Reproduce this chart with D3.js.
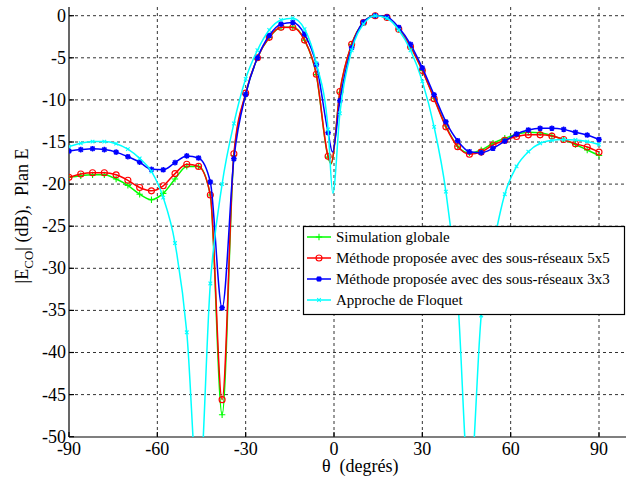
<!DOCTYPE html>
<html>
<head>
<meta charset="utf-8">
<script src="https://cdn.jsdelivr.net/npm/d3@7"></script>
<style>
  body { margin: 0; background: #fff; }
</style>
</head>
<body>
<script>
// ========================================= data ===================================

// angles (degrees) where the markers sit
var angles = [-90, -86, -82, -78, -74, -70, -66, -62, -58, -54, -50, -46, -42, -38, -34, -30,
              -26, -22, -18, -14, -10, -6, -2, 2, 6, 10, 14, 18, 22, 26, 30, 34, 38, 42, 46,
              50, 54, 58, 62, 66, 70, 74, 78, 82, 86, 90];

// Simulation globale
var simGlobale = [-19.2, -19.0, -18.9, -18.9, -19.4, -20.15, -21.2, -21.85, -21.1, -19.4, -17.9, -17.9, -21.3, -47.4, -16.6, -9.3,
                  -5.0, -2.6, -1.4, -1.35, -2.9, -7.0, -16.8, -9.1, -3.4, -0.8, 0, -0.2, -1.6, -3.7, -6.5, -9.8, -13.1, -15.5, -16.3,
                  -15.95, -15.15, -14.56, -14.1, -13.85, -13.9, -14.25, -14.7, -15.3, -15.95, -16.6];
var simGlobaleDip = [[-1, -17.6]];

// Methode proposee, sous-reseaux 5x5
var methode5x5 = [-19.2, -18.8, -18.65, -18.65, -18.9, -19.55, -20.4, -20.8, -20.2, -18.75, -17.65, -17.9, -21.3, -45.6, -16.4, -9.2,
                  -5.0, -2.57, -1.38, -1.4, -2.9, -6.96, -16.7, -9.0, -3.4, -0.8, 0, -0.2, -1.6, -3.7, -6.5, -9.85, -13.2, -15.55, -16.45,
                  -16.2, -15.35, -14.8, -14.35, -14.15, -14.15, -14.3, -14.7, -15.2, -15.6, -16.2];
var methode5x5Dip = [[-1, -17.5]];

// Methode proposee, sous-reseaux 3x3
var methode3x3 = [-16.07, -15.9, -15.8, -15.9, -16.2, -16.75, -17.4, -18.25, -18.3, -17.45, -16.65, -16.9, -19.75, -34.7, -17.0, -9.35,
                  -5.0, -2.35, -1.0, -0.8, -2.2, -5.8, -13.9, -10.1, -3.8, -0.75, 0, -0.15, -1.4, -3.4, -6.2, -9.4, -12.6, -14.85, -16.15,
                  -16.27, -15.75, -14.9, -14.05, -13.57, -13.37, -13.37, -13.5, -13.85, -14.17, -14.7];
var methode3x3Dip = [[-0.5, -16.2]];

// Approche de Floquet
var floquet = [-15.55, -15.15, -14.95, -14.95, -15.2, -15.85, -16.95, -18.5, -21.6, -27.0, -37.6, -57.4, -31.8, -20.0, -12.8, -7.5,
               -4.1, -1.7, -0.5, -0.3, -1.6, -5.65, -13.5, -11.6, -4.1, -1.0, 0, -0.3, -1.7, -4.1, -7.8, -13.2, -20.9, -33.5, -56.4,
               -35.6, -27.5, -21.2, -17.9, -16.15, -15.15, -14.8, -14.7, -14.75, -14.95, -15.3];
var floquetDip = [[-0.4, -21.1]];

var xTicks = [-90, -60, -30, 0, 30, 60, 90];
var yTicks = [0, -5, -10, -15, -20, -25, -30, -35, -40, -45, -50];

var legendLabels = ['Simulation globale',
                    'Méthode proposée avec des sous-réseaux 5x5',
                    'Méthode proposée avec des sous-réseaux 3x3',
                    'Approche de Floquet'];

// ========================================= layout ===================================

var W = 626, H = 477;
var plotL = 69, plotR = 626, plotT = 7, plotB = 437;
var FONT = "'Liberation Serif', 'Times New Roman', 'DejaVu Serif', serif";

var svg = d3.select('body').append('svg').attr('width', W).attr('height', H)
  .attr('font-family', FONT).style('font-family', FONT);

var x = d3.scaleLinear().domain([-90, 90]).range([69, 599]);
var y = d3.scaleLinear().domain([-50, 0]).range([436.7, 15.7]);

// grid
var grid = svg.append('g').attr('stroke', '#333').attr('stroke-width', 1).attr('stroke-dasharray', '3,3');
xTicks.filter(d => d !== -90).forEach(function(d){
  grid.append('line').attr('x1', x(d)).attr('x2', x(d)).attr('y1', plotT).attr('y2', plotB);
});
yTicks.filter(d => d !== -50).forEach(function(d){
  grid.append('line').attr('x1', plotL).attr('x2', plotR).attr('y1', y(d)).attr('y2', y(d));
});

// axes lines + small inner ticks
var ax = svg.append('g').attr('stroke', '#000').attr('stroke-width', 1.2);
ax.append('line').attr('x1', plotL).attr('x2', plotL).attr('y1', plotT).attr('y2', plotB);
ax.append('line').attr('x1', plotL).attr('x2', plotR).attr('y1', plotB).attr('y2', plotB);
xTicks.forEach(function(d){
  ax.append('line').attr('x1', x(d)).attr('x2', x(d)).attr('y1', plotB).attr('y2', plotB - 5);
});
yTicks.forEach(function(d){
  ax.append('line').attr('x1', plotL).attr('x2', plotL + 5).attr('y1', y(d)).attr('y2', y(d));
});

// tick labels
svg.append('g').selectAll('text').data(yTicks).enter().append('text')
  .attr('x', 66).attr('y', d => y(d)).attr('dy', '0.33em')
  .attr('text-anchor', 'end').style('font-size', '18px')
  .text(d => d === 0 ? '0' : '-' + Math.abs(d));

svg.append('g').selectAll('text').data(xTicks).enter().append('text')
  .attr('x', d => x(d)).attr('y', 455)
  .attr('text-anchor', 'middle').style('font-size', '18px')
  .text(d => d < 0 ? '-' + Math.abs(d) : String(d));

// axis titles
svg.append('text').attr('x', 322).attr('y', 472).style('font-size', '18px')
  .attr('xml:space', 'preserve').style('white-space', 'pre')
  .text('\u03b8  (degrés)');

var yt = svg.append('text').attr('transform', 'translate(28,216) rotate(-90)')
  .attr('text-anchor', 'middle').style('font-size', '18px').style('white-space', 'pre');
yt.append('tspan').text('|E');
yt.append('tspan').attr('dy', 5).style('font-size', '13px').text('CO');
yt.append('tspan').attr('dy', -5).text('| (dB),  Plan E');

// ========================================= series ===================================

svg.append('clipPath').attr('id', 'plotClip').append('rect')
  .attr('x', plotL).attr('y', plotT).attr('width', plotR - plotL).attr('height', plotB - plotT);

function markerPath(type, s) {
  if (type === 'plus') return 'M' + (-s) + ',0H' + s + 'M0,' + (-s) + 'V' + s;
  if (type === 'x') return 'M' + (-s) + ',' + (-s) + 'L' + s + ',' + s + 'M' + (-s) + ',' + s + 'L' + s + ',' + (-s);
  if (type === 'star') {
    var k = s * 0.75;
    return 'M' + (-s) + ',0H' + s + 'M0,' + (-s) + 'V' + s +
           'M' + (-k) + ',' + (-k) + 'L' + k + ',' + k + 'M' + (-k) + ',' + k + 'L' + k + ',' + (-k);
  }
  return '';
}

function drawMarker(g, type, color, cx, cy) {
  if (type === 'circle') {
    g.append('circle').attr('cx', cx).attr('cy', cy).attr('r', 3)
      .attr('fill', 'none').attr('stroke', color).attr('stroke-width', 1.1);
  } else {
    var s = type === 'x' ? 1.8 : (type === 'star' ? 2.8 : 3.2);
    g.append('path').attr('transform', 'translate(' + cx + ',' + cy + ')')
      .attr('d', markerPath(type, s)).attr('fill', 'none')
      .attr('stroke', color).attr('stroke-width', type === 'star' ? 1.5 : 1.1);
  }
}

var series = [
  {name: legendLabels[0], values: simGlobale, extra: simGlobaleDip, color: '#00ff00', marker: 'plus'},
  {name: legendLabels[1], values: methode5x5, extra: methode5x5Dip, color: '#ff0000', marker: 'circle'},
  {name: legendLabels[2], values: methode3x3, extra: methode3x3Dip, color: '#0000ff', marker: 'star'},
  {name: legendLabels[3], values: floquet, extra: floquetDip, color: '#00ffff', marker: 'x'}
];

var line = d3.line().x(d => x(d.a)).y(d => y(d.v)).curve(d3.curveMonotoneX);
var plotG = svg.append('g').attr('clip-path', 'url(#plotClip)');

series.forEach(function(s){
  var pts = angles.map((a, i) => ({a: a, v: s.values[i], mark: true}));
  s.extra.forEach(e => pts.push({a: e[0], v: e[1], mark: false}));
  pts.sort((p, q) => p.a - q.a);
  plotG.append('path').attr('d', line(pts)).attr('fill', 'none')
    .attr('stroke', s.color).attr('stroke-width', 1.5);
  var mg = plotG.append('g');
  pts.filter(p => p.mark).forEach(p => drawMarker(mg, s.marker, s.color, x(p.a), y(p.v)));
});

// ========================================= legend ===================================

var lg = svg.append('g');
lg.append('rect').attr('x', 303.5).attr('y', 226.5).attr('width', 321).attr('height', 88)
  .attr('fill', '#fff').attr('stroke', '#000').attr('stroke-width', 1.2);
series.forEach(function(s, i){
  var cy = 237 + i * 21;
  lg.append('line').attr('x1', 307).attr('x2', 331).attr('y1', cy).attr('y2', cy)
    .attr('stroke', s.color).attr('stroke-width', 1.5);
  drawMarker(lg, s.marker, s.color, 319, cy);
  lg.append('text').attr('x', 336).attr('y', cy + 5).style('font-size', '15px').text(s.name);
});
</script>
</body>
</html>
